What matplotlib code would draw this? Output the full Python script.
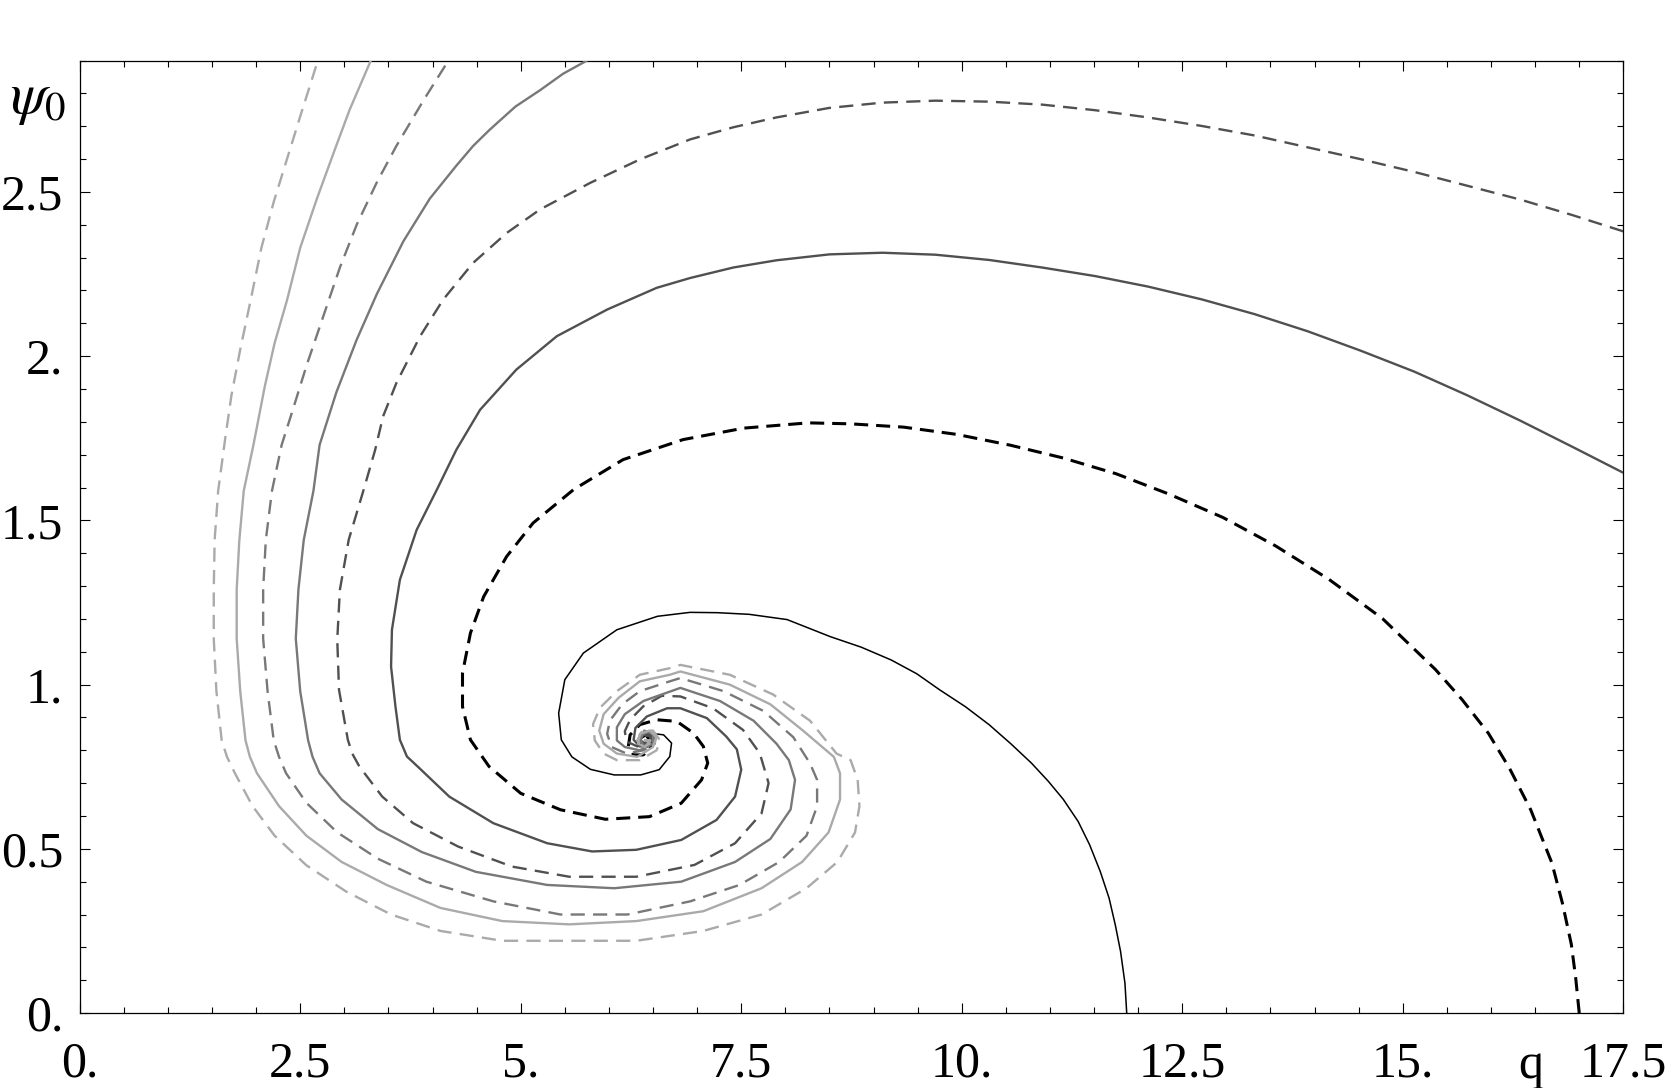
import matplotlib
matplotlib.use("Agg")
import matplotlib.pyplot as plt
from matplotlib.ticker import MultipleLocator, FixedLocator

plt.rcParams['font.family'] = ['Liberation Serif', 'DejaVu Serif']
plt.rcParams['mathtext.fontset'] = 'stix'

# ---- data: trajectories in the (q, psi0) plane, each spiralling into the focus ----
q1 = [2.72, 2.70, 2.50, 2.35, 2.20, 2.06, 1.93, 1.82, 1.72, 1.65, 1.57, 1.53, 1.52, 1.52, 1.55, 1.61,
      1.67, 1.76, 1.96, 2.21, 2.57, 3.02, 3.53, 4.09, 4.79, 5.55, 6.31, 7.07, 7.73, 8.24, 8.59, 8.79,
      8.84, 8.82, 8.74, 8.58, 8.28, 7.86, 7.37, 6.81, 6.69, 6.35, 6.09, 5.90, 5.82, 5.84, 5.94, 6.09,
      6.35, 6.54, 6.58, 6.50, 6.38, 6.32, 6.38, 6.46, 6.44, 6.41]
p1 = [2.95, 2.90, 2.73, 2.60, 2.47, 2.33, 2.16, 2.02, 1.88, 1.75, 1.59, 1.44, 1.29, 1.14, 0.98, 0.83,
      0.78, 0.73, 0.63, 0.54, 0.45, 0.37, 0.30, 0.25, 0.22, 0.22, 0.22, 0.25, 0.30, 0.38, 0.46, 0.55,
      0.63, 0.71, 0.77, 0.79, 0.89, 0.97, 1.03, 1.06, 1.05, 1.03, 0.98, 0.93, 0.88, 0.83, 0.79, 0.77,
      0.77, 0.80, 0.83, 0.86, 0.86, 0.83, 0.81, 0.82, 0.83, 0.83]

q2 = [3.32, 3.30, 3.06, 2.88, 2.69, 2.50, 2.35, 2.21, 2.10, 1.97, 1.86, 1.81, 1.78, 1.78, 1.82, 1.88,
      1.93, 2.01, 2.26, 2.57, 2.97, 3.48, 4.09, 4.79, 5.55, 6.31, 7.07, 7.73, 8.19, 8.49, 8.62, 8.62,
      8.55, 8.20, 7.83, 7.37, 6.81, 6.69, 6.35, 6.11, 5.94, 5.89, 5.94, 6.09, 6.32, 6.50, 6.54, 6.46,
      6.35, 6.33, 6.41, 6.47, 6.41]
p2 = [2.95, 2.90, 2.75, 2.62, 2.48, 2.33, 2.17, 2.04, 1.91, 1.73, 1.59, 1.44, 1.29, 1.14, 0.98, 0.83,
      0.78, 0.73, 0.63, 0.54, 0.46, 0.39, 0.32, 0.28, 0.27, 0.28, 0.31, 0.38, 0.46, 0.55, 0.65, 0.73,
      0.78, 0.86, 0.94, 1.00, 1.04, 1.03, 1.01, 0.96, 0.91, 0.86, 0.82, 0.79, 0.78, 0.81, 0.84, 0.86,
      0.85, 0.82, 0.81, 0.83, 0.83]

q3 = [4.20, 4.18, 3.90, 3.59, 3.37, 3.14, 2.95, 2.76, 2.57, 2.42, 2.29, 2.18, 2.11, 2.08, 2.08, 2.13,
      2.20, 2.26, 2.34, 2.57, 2.92, 3.38, 3.93, 4.69, 5.45, 6.21, 6.92, 7.48, 7.93, 8.24, 8.36, 8.36,
      8.28, 8.09, 7.75, 7.30, 6.81, 6.69, 6.35, 6.15, 6.01, 5.98, 6.03, 6.20, 6.39, 6.52, 6.53, 6.44,
      6.35, 6.37, 6.45, 6.46, 6.41]
p3 = [2.95, 2.90, 2.78, 2.64, 2.53, 2.40, 2.27, 2.12, 1.97, 1.84, 1.73, 1.59, 1.44, 1.29, 1.14, 0.98,
      0.83, 0.78, 0.73, 0.64, 0.55, 0.47, 0.40, 0.34, 0.30, 0.30, 0.34, 0.39, 0.46, 0.54, 0.63, 0.71,
      0.76, 0.84, 0.92, 0.98, 1.02, 1.01, 0.98, 0.94, 0.89, 0.85, 0.81, 0.79, 0.80, 0.82, 0.85, 0.86,
      0.84, 0.82, 0.81, 0.83, 0.83]

q4 = [5.79, 5.75, 5.48, 5.22, 4.94, 4.65, 4.46, 4.27, 3.97, 3.67, 3.37, 3.14, 2.91, 2.72, 2.65, 2.54,
      2.48, 2.45, 2.50, 2.59, 2.64, 2.72, 2.97, 3.38, 3.88, 4.49, 5.30, 6.06, 6.82, 7.43, 7.83, 8.06,
      8.11, 8.04, 7.90, 7.64, 7.26, 6.81, 6.39, 6.18, 6.09, 6.09, 6.18, 6.35, 6.50, 6.50, 6.40, 6.35,
      6.41, 6.46, 6.41]
p4 = [2.93, 2.90, 2.86, 2.81, 2.76, 2.69, 2.64, 2.58, 2.48, 2.35, 2.19, 2.05, 1.89, 1.73, 1.59, 1.44,
      1.29, 1.14, 0.98, 0.83, 0.78, 0.73, 0.65, 0.56, 0.49, 0.43, 0.39, 0.38, 0.40, 0.46, 0.53, 0.62,
      0.71, 0.77, 0.82, 0.89, 0.95, 0.99, 0.95, 0.91, 0.87, 0.83, 0.81, 0.80, 0.82, 0.85, 0.86, 0.83,
      0.81, 0.82, 0.83]

q5 = [17.50, 16.93, 16.33, 15.73, 15.13, 14.52, 13.92, 13.32, 12.72, 12.11, 11.51, 10.91, 10.31, 9.70,
      9.10, 8.50, 7.90, 7.41, 6.92, 6.35, 5.79, 5.22, 4.84, 4.46, 4.12, 3.86, 3.59, 3.44, 3.35, 3.22,
      3.05, 2.95, 2.92, 2.94, 3.04, 3.09, 3.17, 3.43, 3.78, 4.29, 4.90, 5.55, 6.31, 6.97, 7.43, 7.73,
      7.81, 7.71, 7.52, 7.18, 6.81, 6.60, 6.39, 6.24, 6.18, 6.20, 6.32, 6.47, 6.48, 6.40, 6.35, 6.41,
      6.44]
p5 = [2.380, 2.429, 2.477, 2.519, 2.561, 2.600, 2.636, 2.672, 2.701, 2.727, 2.749, 2.766, 2.775, 2.778,
      2.772, 2.756, 2.727, 2.697, 2.660, 2.599, 2.528, 2.447, 2.375, 2.284, 2.172, 2.061, 1.918, 1.817,
      1.715, 1.594, 1.441, 1.289, 1.137, 0.984, 0.832, 0.790, 0.751, 0.659, 0.578, 0.507, 0.446, 0.415,
      0.415, 0.451, 0.517, 0.608, 0.700, 0.791, 0.862, 0.928, 0.964, 0.966, 0.934, 0.893, 0.858, 0.827,
      0.812, 0.822, 0.845, 0.852, 0.832, 0.819, 0.829]

q6 = [17.50, 16.93, 16.33, 15.73, 15.13, 14.52, 13.92, 13.32, 12.72, 12.11, 11.51, 10.91, 10.31, 9.70,
      9.10, 8.50, 7.90, 7.41, 6.92, 6.54, 5.98, 5.41, 4.95, 4.54, 4.27, 4.05, 3.82, 3.63, 3.54, 3.53,
      3.58, 3.63, 3.71, 3.83, 4.19, 4.69, 5.30, 5.81, 6.31, 6.82, 7.22, 7.43, 7.50, 7.45, 7.33, 7.11,
      6.81, 6.66, 6.43, 6.30, 6.28, 6.35, 6.47, 6.47, 6.39, 6.35, 6.41, 6.42]
p6 = [1.645, 1.723, 1.804, 1.881, 1.953, 2.017, 2.076, 2.128, 2.173, 2.212, 2.244, 2.270, 2.293, 2.309,
      2.315, 2.310, 2.292, 2.270, 2.238, 2.208, 2.142, 2.061, 1.959, 1.837, 1.715, 1.594, 1.471, 1.319,
      1.167, 1.055, 0.933, 0.832, 0.781, 0.751, 0.659, 0.578, 0.517, 0.492, 0.497, 0.527, 0.588, 0.659,
      0.741, 0.803, 0.842, 0.898, 0.928, 0.928, 0.903, 0.868, 0.832, 0.812, 0.817, 0.842, 0.848, 0.829,
      0.819, 0.829]

q7 = [17.00, 16.96, 16.91, 16.81, 16.69, 16.45, 16.21, 15.97, 15.67, 15.37, 14.77, 14.16, 13.56, 12.96,
      12.35, 11.75, 11.15, 10.55, 9.94, 9.34, 8.74, 8.26, 7.53, 6.84, 6.16, 5.60, 5.14, 4.84, 4.58,
      4.43, 4.34, 4.34, 4.43, 4.64, 5.00, 5.45, 5.96, 6.46, 6.82, 7.05, 7.12, 7.07, 6.96, 6.77, 6.54,
      6.35, 6.24, 6.22, 6.28, 6.39, 6.47, 6.48, 6.41, 6.36]
p7 = [0.000, 0.107, 0.210, 0.334, 0.457, 0.619, 0.745, 0.852, 0.955, 1.046, 1.201, 1.321, 1.422, 1.509,
      1.580, 1.642, 1.690, 1.729, 1.762, 1.784, 1.794, 1.797, 1.781, 1.746, 1.685, 1.594, 1.492, 1.390,
      1.268, 1.157, 1.035, 0.933, 0.832, 0.751, 0.669, 0.619, 0.590, 0.598, 0.639, 0.710, 0.761, 0.812,
      0.852, 0.888, 0.893, 0.878, 0.847, 0.812, 0.786, 0.786, 0.806, 0.832, 0.845, 0.829]

q8 = [11.87, 11.85, 11.80, 11.74, 11.67, 11.57, 11.45, 11.32, 11.15, 10.98, 10.79, 10.56, 10.31, 10.04,
      9.75, 9.49, 9.20, 8.86, 8.51, 8.02, 7.59, 7.23, 6.92, 6.55, 6.09, 5.71, 5.50, 5.43, 5.46, 5.58,
      5.79, 6.06, 6.36, 6.57, 6.69, 6.71, 6.62, 6.47, 6.37, 6.35, 6.44]
p8 = [0.000, 0.091, 0.188, 0.269, 0.350, 0.431, 0.512, 0.583, 0.651, 0.706, 0.761, 0.819, 0.878, 0.933,
      0.984, 1.033, 1.075, 1.114, 1.146, 1.198, 1.214, 1.219, 1.220, 1.208, 1.167, 1.096, 1.015, 0.913,
      0.832, 0.780, 0.742, 0.725, 0.725, 0.741, 0.781, 0.822, 0.847, 0.852, 0.837, 0.812, 0.810]

curves = [(q1, p1), (q2, p2), (q3, p3), (q4, p4), (q5, p5), (q6, p6), (q7, p7), (q8, p8)]
colors = ['#aaaaaa', '#aaaaaa', '#787878', '#787878', '#505050', '#505050', '#000000', '#000000']
styles = ['dash', 'solid', 'dash', 'solid', 'dash', 'solid', 'dash', 'solid']
widths = [1.7, 1.7, 1.7, 1.7, 1.7, 1.7, 2.2, 1.1]

xtick_vals = [0, 2.5, 5, 7.5, 10, 12.5, 15, 17.5]
xtick_labels = ['0.', '2.5', '5.', '7.5', '10.', '12.5', '15.', '17.5']
ytick_vals = [0, 0.5, 1, 1.5, 2, 2.5]
ytick_labels = ['0.', '0.5', '1.', '1.5', '2.', '2.5']

fig = plt.figure(figsize=(16.67, 10.88), dpi=100)
ax = fig.add_axes([0.0478, 0.0689, 0.926, 0.8754])

for i, ((qq, pp), c, s, w) in enumerate(zip(curves, colors, styles, widths)):
    line, = ax.plot(qq, pp, color=c, lw=w, solid_joinstyle='round', zorder=10 - i)
    if s == 'dash':
        line.set_dashes((6.0, 3.5) if w < 2 else (4.6, 2.6))

ax.set_xlim(0, 17.5)
ax.set_ylim(0, 2.9)
ax.xaxis.set_major_locator(FixedLocator(xtick_vals))
ax.set_xticklabels(xtick_labels)
ax.yaxis.set_major_locator(FixedLocator(ytick_vals))
ax.set_yticklabels(ytick_labels)
ax.xaxis.set_minor_locator(MultipleLocator(0.5))
ax.yaxis.set_minor_locator(MultipleLocator(0.1))
ax.tick_params(which='both', direction='in', top=True, right=True, width=0.8)
ax.tick_params(which='major', length=7)
ax.tick_params(which='minor', length=4)
ax.tick_params(axis='x', which='major', labelsize=36, pad=20)
ax.tick_params(axis='y', which='major', labelsize=36, pad=12)
for sp in ax.spines.values():
    sp.set_linewidth(0.9)

ax.annotate('q', xy=(16.45, 0), xycoords=('data', 'axes fraction'), xytext=(0, -47),
            textcoords='offset points', ha='center', va='baseline', fontsize=36)
fig.text(10 / 1667, 1 - 113 / 1088, r'$\psi_0$', fontsize=42, ha='left', va='baseline')

fig.savefig('out.png', dpi=100)
